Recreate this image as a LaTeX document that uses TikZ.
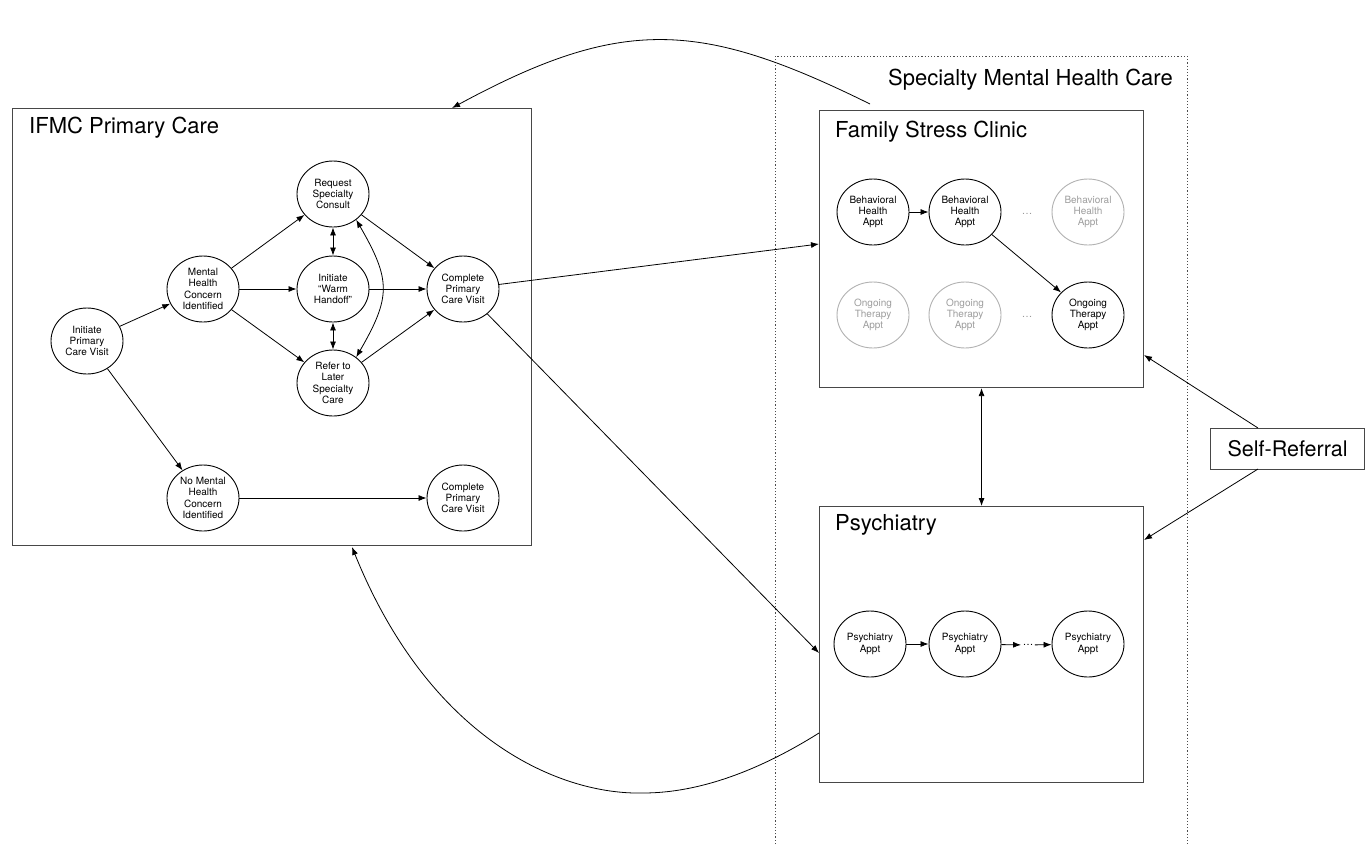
\documentclass[tikz,border=0pt]{standalone}
\usepackage{fontspec}
\setmainfont{TeX Gyre Heros}
\usetikzlibrary{shapes.geometric,arrows.meta,calc}
\tikzset{
  box/.style={draw=black!72, line width=1.1pt, rectangle, inner sep=0pt},
  st/.style={ellipse, draw=black, line width=0.9pt, minimum width=72pt, minimum height=66pt,
    inner sep=0pt, align=center, font=\fontsize{10}{11.2}\selectfont},
  ghost/.style={st, draw=black!30, text=black!38},
  dotsn/.style={inner sep=1pt, font=\fontsize{10.5}{11}\selectfont},
  arr/.style={-{Latex[length=8pt,width=6pt]}, line width=0.8pt},
  darr/.style={{Latex[length=8pt,width=6pt]}-{Latex[length=8pt,width=6pt]}, line width=0.8pt},
  ttl/.style={font=\fontsize{22}{25}\selectfont, anchor=west, inner sep=0pt},
}
\begin{document}
\begin{tikzpicture}[x=1pt,y=1pt]
\useasboundingbox[fill=white] (0,0) rectangle (1365,-844);

% dotted specialty region
\draw[black!70, line width=1pt, dash pattern=on 1.2pt off 2pt]
  (775,-844) -- (775,-56) -- (1187,-56) -- (1187,-844);
\node[ttl] (smhc) at (888,-80) {Specialty Mental Health Care};

% boxes
\node[box, anchor=north west, minimum width=519pt, minimum height=437pt] (ifmc) at (12,-108) {};
\node[ttl] (ifmct) at (29,-128) {IFMC Primary Care};
\node[box, anchor=north west, minimum width=324pt, minimum height=277pt] (fsc) at (819,-110) {};
\node[ttl] (fsct) at (835,-132) {Family Stress Clinic};
\node[box, anchor=north west, minimum width=324pt, minimum height=276pt] (psy) at (819,-506) {};
\node[ttl] (psyt) at (835,-525) {Psychiatry};
\node[box, anchor=north west, minimum width=154pt, minimum height=41pt,
  font=\fontsize{21.5}{24}\selectfont] (self) at (1210,-428) {Self-Referral};

% primary care nodes
\node[st] (ini)  at (87,-341)  {Initiate\\Primary\\Care Visit};
\node[st] (mh)   at (203,-289) {Mental\\Health\\Concern\\Identified};
\node[st] (req)  at (333,-194) {Request\\Specialty\\Consult};
\node[st] (warm) at (333,-289) {Initiate\\“Warm\\Handoff”};
\node[st] (ref)  at (333,-383) {Refer to\\Later\\Specialty\\Care};
\node[st] (cpv)  at (463,-289) {Complete\\Primary\\Care Visit};
\node[st] (nomh) at (203,-498) {No Mental\\Health\\Concern\\Identified};
\node[st] (cpvb) at (463,-498) {Complete\\Primary\\Care Visit};

% family stress clinic nodes
\node[st]    (bh1) at (873,-212)  {Behavioral\\Health\\Appt};
\node[st]    (bh2) at (965,-212)  {Behavioral\\Health\\Appt};
\node[ghost] (bh3) at (1088,-212) {Behavioral\\Health\\Appt};
\node[dotsn, text=black!40] (bhd) at (1027,-214) {…};
\node[ghost] (ot1) at (873,-315)  {Ongoing\\Therapy\\Appt};
\node[ghost] (ot2) at (965,-315)  {Ongoing\\Therapy\\Appt};
\node[st]    (ot3) at (1088,-315) {Ongoing\\Therapy\\Appt};
\node[dotsn, text=black!40] (otd) at (1027,-317) {…};

% psychiatry nodes
\node[st] (p1) at (870,-644)  {Psychiatry\\Appt};
\node[st] (p2) at (965,-644)  {Psychiatry\\Appt};
\node[st] (p3) at (1088,-644) {Psychiatry\\Appt};
\node[dotsn, inner xsep=1.5pt, inner ysep=0pt] (pd) at (1028,-645) {…};

% free ends on box edges
\coordinate (fscin)  at (819,-244);
\coordinate (psyin)  at (819,-653);
\coordinate (fscout) at (870,-104);
\coordinate (ifmcin) at (452,-108);
\coordinate (psyout) at (819,-733);
\coordinate (ifmcin2) at (352,-547);
\coordinate (pmid) at (643,-793);
\coordinate (fscR) at (1144,-355);
\coordinate (psyR) at (1144,-540);
\coordinate (selfT) at (1258,-428);
\coordinate (selfB) at (1258,-469);

% primary care edges
\draw[arr] (ini) -- (mh);
\draw[arr] (ini) -- (nomh);
\draw[arr] (mh) -- (req);
\draw[arr] (mh) -- (warm);
\draw[arr] (mh) -- (ref);
\draw[darr] (req) -- (warm);
\draw[darr] (warm) -- (ref);
\draw[darr] (req.-48) to[out=-60,in=60,looseness=1.3] (ref.48);
\draw[arr] (req) -- (cpv);
\draw[arr] (warm) -- (cpv);
\draw[arr] (ref) -- (cpv);
\draw[arr] (nomh) -- (cpvb);

% cross edges
\draw[arr] (cpv) -- (fscin);
\draw[arr] (cpv) -- (psyin);
\draw[arr] (fscout) .. controls (700,-20) and (622,-16) .. (ifmcin);
\draw[arr] (psyout) .. controls (760,-770) and (700,-793) .. (pmid)
  .. controls (560,-795) and (430,-740) .. (ifmcin2);
\draw[darr] (fsc.south) -- (psy.north);
\draw[arr] (selfT) -- (fscR);
\draw[arr] (selfB) -- (psyR);

% clinic edges
\draw[arr] (bh1) -- (bh2);
\draw[arr] (bh2) -- (ot3);
\draw[arr] (p1) -- (p2);
\draw[arr] (p2) -- (pd);
\draw[arr] (pd) -- (p3);
\end{tikzpicture}
\end{document}
